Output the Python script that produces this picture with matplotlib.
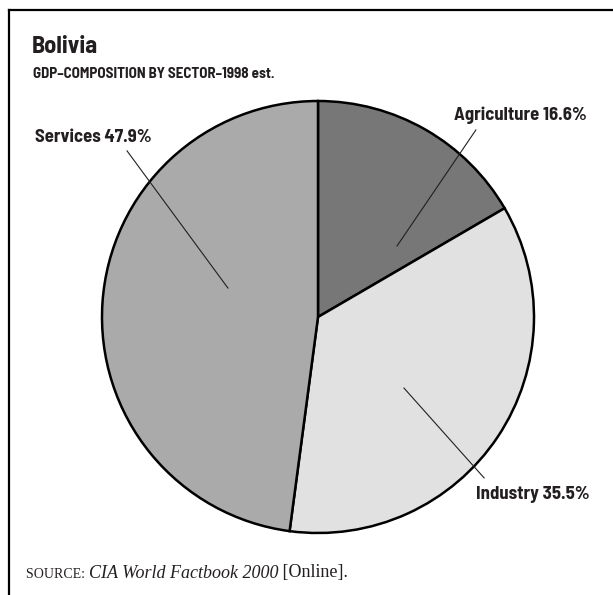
import matplotlib
matplotlib.use('Agg')
import matplotlib.pyplot as plt
from matplotlib.lines import Line2D

sectors = ['Agriculture', 'Industry', 'Services']
shares = [16.6, 35.5, 47.9]
colors = ['#777777', '#e1e1e1', '#aaaaaa']

# label text position and leader line (outer end, inner end) in pie units
label_xy = [(0.935, 0.935), (0.993, -0.824), (-1.039, 0.833)]
leader_out = [(0.731, 0.866), (0.769, -0.745), (-0.884, 0.769)]
leader_in = [(0.366, 0.329), (0.398, -0.329), (-0.417, 0.134)]

W, H = 613, 595
cond = ['Barlow Semi Condensed', 'DejaVu Sans']
serif = ['Liberation Serif', 'DejaVu Serif']
ink = '#231f20'

fig = plt.figure(figsize=(W/100, H/100), dpi=100)

# frame: top and left rules only
fig.add_artist(Line2D([9/W, 1], [1-10/H, 1-10/H], color='black', lw=1.6, transform=fig.transFigure))
fig.add_artist(Line2D([9/W, 9/W], [0, 1-10/H], color='black', lw=1.6, transform=fig.transFigure))

fig.text(32/W, 1-53/H, 'Bolivia', family=cond, fontweight='bold', fontsize=17.5, color=ink)
fig.text(33/W, 1-78/H, 'GDP–COMPOSITION BY SECTOR–1998 est.', family=cond, fontweight='bold',
         fontsize=10.8, color=ink)

cx, cy, r = 318, 317, 216
ax = fig.add_axes([(cx-r)/W, (H-cy-r)/H, 2*r/W, 2*r/H])
ax.pie(shares, colors=colors, startangle=90, counterclock=False, radius=1,
       wedgeprops=dict(edgecolor='black', linewidth=1.8))
ax.set_xlim(-1, 1)
ax.set_ylim(-1, 1)
ax.set_aspect('equal')
ax.axis('off')

for name, val, (tx, ty), p0, p1 in zip(sectors, shares, label_xy, leader_out, leader_in):
    ax.plot([p0[0], p1[0]], [p0[1], p1[1]], color=ink, lw=0.8, clip_on=False)
    ax.text(tx, ty, f'{name} {val}%', family=cond, fontweight='bold', fontsize=13.5,
            color=ink, ha='center', va='center', clip_on=False)

# source line with small caps lead-in
fig.canvas.draw()
rend = fig.canvas.get_renderer()
x = 26/W
yb = 1-577.5/H
parts = [('SOURCE: ', 10, 'normal'), ('CIA World Factbook 2000', 13, 'italic'), (' [Online].', 13, 'normal')]
for s, fs, st in parts:
    t = fig.text(x, yb, s, family=serif, fontsize=fs, style=st, color=ink)
    bb = t.get_window_extent(renderer=rend)
    x += bb.width / W

fig.savefig('out.png', dpi=100)
